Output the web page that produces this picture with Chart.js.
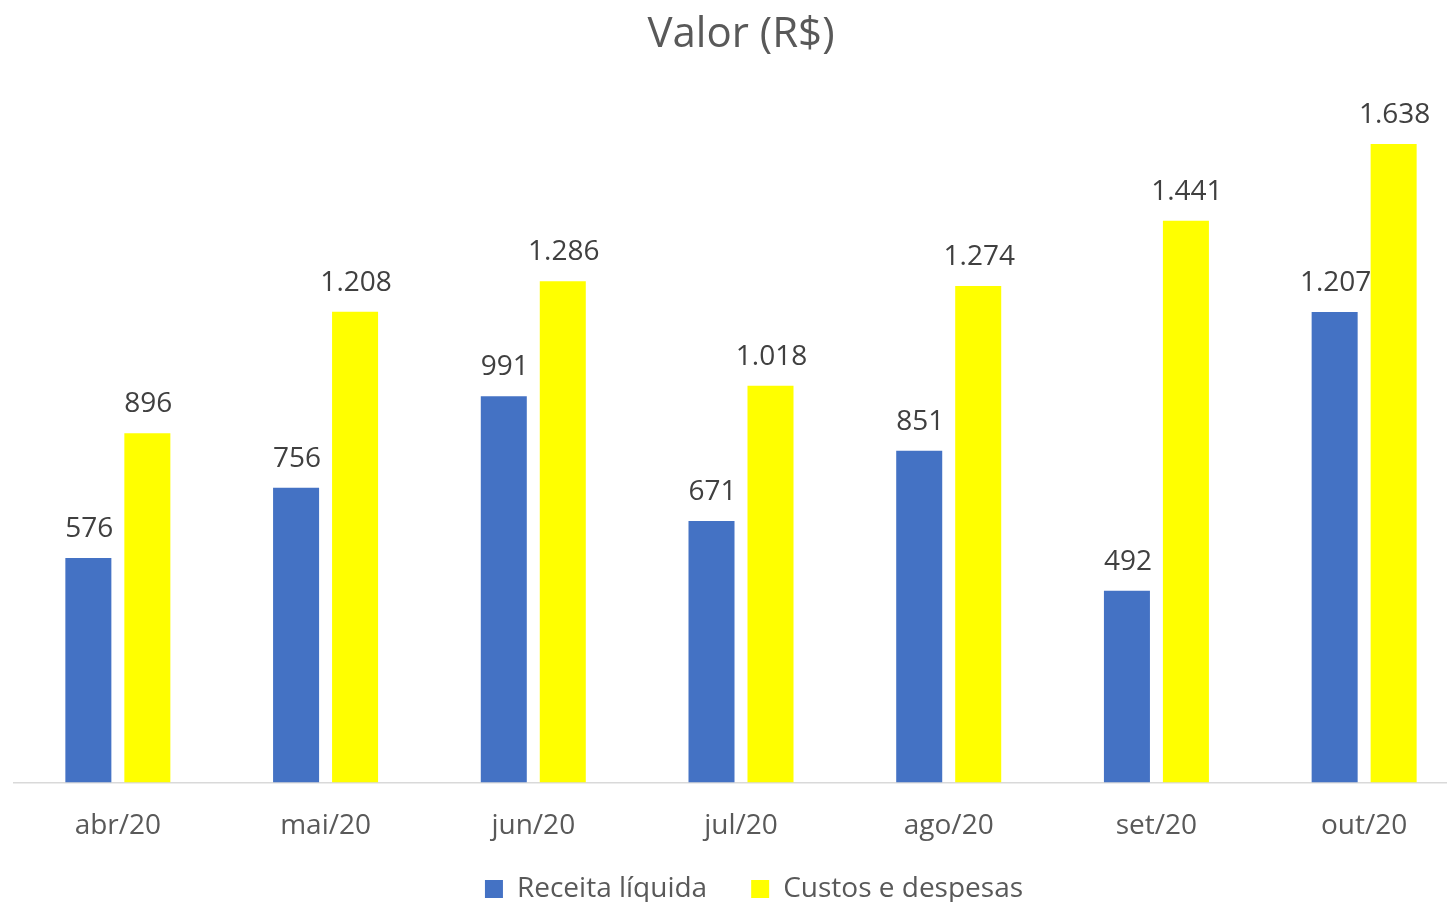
<!DOCTYPE html>
<html>
<head>
<meta charset="utf-8">
<script src="https://cdn.jsdelivr.net/npm/chart.js@4.4.1/dist/chart.umd.min.js"></script>
<style>
  html, body { margin: 0; padding: 0; background: #ffffff; overflow: hidden; }
  #wrap { position: relative; width: 1482px; height: 913px; }
</style>
</head>
<body>
<div id="wrap"><canvas id="c" width="1482" height="913"></canvas></div>
<script>
const chartTitle = 'Valor (R$)';
const categories = ['abr/20', 'mai/20', 'jun/20', 'jul/20', 'ago/20', 'set/20', 'out/20'];
const seriesNames = ['Receita líquida', 'Custos e despesas'];
const receitaLiquida = [576, 756, 991, 671, 851, 492, 1207];
const custosDespesas = [896, 1208, 1286, 1018, 1274, 1441, 1638];
const yMin = 0;
const yMax = 1800;

const FONT = "'Open Sans', 'Noto Sans', sans-serif";

function fmt(v) {
  return String(v).replace(/\B(?=(\d{3})+(?!\d))/g, '.');
}

const valueLabels = {
  id: 'valueLabels',
  afterDatasetsDraw(chart) {
    const ctx = chart.ctx;
    ctx.save();
    ctx.font = '28px ' + FONT;
    ctx.fillStyle = '#404040';
    ctx.textAlign = 'center';
    ctx.textBaseline = 'alphabetic';
    chart.data.datasets.forEach((ds, i) => {
      const meta = chart.getDatasetMeta(i);
      meta.data.forEach((bar, j) => {
        ctx.fillText(fmt(ds.data[j]), bar.x + 1, bar.y - 21);
      });
    });
    ctx.restore();
  }
};

// let the category labels overflow their (tight) axis box, nudge legend slightly right
const layoutTweaks = {
  id: 'layoutTweaks',
  afterLayout(chart) {
    chart.scales.x.bottom = chart.height;
    chart.legend.left += 13;
    chart.legend.right += 13;
  }
};

new Chart(document.getElementById('c'), {
  type: 'bar',
  data: {
    labels: categories,
    datasets: [
      { label: seriesNames[0], data: receitaLiquida, backgroundColor: '#4472C4', borderWidth: 0,
        categoryPercentage: 0.568, barPercentage: 0.78 },
      { label: seriesNames[1], data: custosDespesas, backgroundColor: '#FFFF00', borderWidth: 0,
        categoryPercentage: 0.568, barPercentage: 0.78 }
    ]
  },
  options: {
    responsive: false,
    animation: false,
    layout: { padding: { left: 14, right: 14, top: 0, bottom: 0 } },
    plugins: {
      title: {
        display: true,
        text: chartTitle,
        color: '#595959',
        font: { family: FONT, size: 42, weight: 'normal', lineHeight: 1.2 },
        padding: { top: 10, bottom: 20.5 }
      },
      legend: {
        display: true,
        position: 'bottom',
        labels: {
          color: '#595959',
          font: { family: FONT, size: 28 },
          boxWidth: 18,
          boxHeight: 18,
          padding: 44
        }
      },
      tooltip: { enabled: false }
    },
    scales: {
      x: {
        grid: { display: false, drawTicks: false },
        border: { display: true, color: '#D9D9D9', width: 1.5 },
        ticks: { color: '#595959', font: { family: FONT, size: 28, lineHeight: 1.2 }, padding: 26.7, maxRotation: 0 },
        afterFit(scale) { scale.height = 48.5; }
      },
      y: {
        display: false,
        min: yMin,
        max: yMax,
        grid: { display: false }
      }
    }
  },
  plugins: [valueLabels, layoutTweaks]
});
</script>
</body>
</html>
